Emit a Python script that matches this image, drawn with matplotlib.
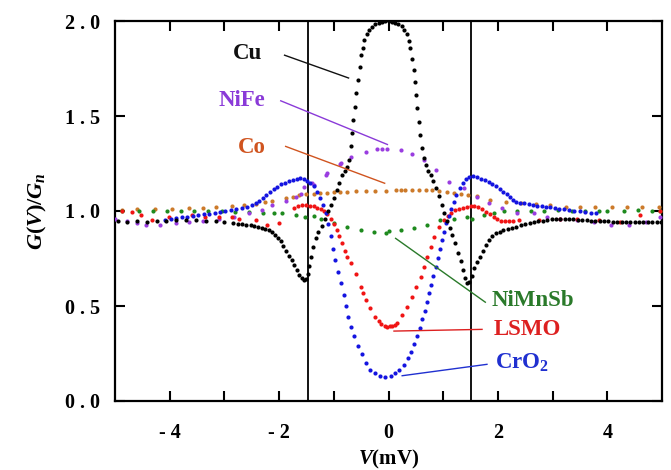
import matplotlib
matplotlib.use("Agg")
import matplotlib.pyplot as plt

plt.rcParams['font.family'] = ['Liberation Serif', 'DejaVu Serif']
plt.rcParams['font.weight'] = 'bold'
plt.rcParams['mathtext.fontset'] = 'custom'
plt.rcParams['mathtext.rm'] = 'Liberation Serif:bold'
plt.rcParams['mathtext.it'] = 'Liberation Serif:italic:bold'
plt.rcParams['mathtext.bf'] = 'Liberation Serif:bold'

# ---------------- data ----------------
cu_x = [-4.95, -4.78, -4.6, -4.42, -4.24, -4.06, -3.89, -3.7, -3.52, -3.34, -3.16, -3.0, -2.85,
        -2.75, -2.68, -2.6, -2.52, -2.45, -2.38, -2.31, -2.25, -2.19, -2.13, -2.07, -2.02, -1.97,
        -1.92, -1.87, -1.82, -1.77, -1.72, -1.67, -1.63, -1.59, -1.55, -1.51, -1.48, -1.45, -1.42,
        -1.38, -1.33, -1.28, -1.22, -1.16, -1.1, -1.05, -1.0, -0.95, -0.9, -0.85, -0.8, -0.76, -0.72,
        -0.69, -0.67, -0.64, -0.62, -0.59, -0.56, -0.53, -0.5, -0.47, -0.44, -0.4, -0.35, -0.3, -0.24,
        -0.18, -0.12, -0.06, 0.0, 0.06, 0.12, 0.18, 0.24, 0.29, 0.33, 0.37, 0.4, 0.43, 0.46, 0.49,
        0.51, 0.53, 0.55, 0.58, 0.61,
        0.64, 0.68, 0.72, 0.77, 0.82, 0.87, 0.92, 0.97, 1.02, 1.07, 1.12, 1.17, 1.22, 1.27, 1.32,
        1.36, 1.4, 1.44, 1.48, 1.52, 1.57, 1.62, 1.67, 1.72, 1.78, 1.84, 1.9, 1.96, 2.03, 2.1, 2.18,
        2.26, 2.34, 2.42, 2.5, 2.58, 2.66, 2.74, 2.82, 2.9, 2.98, 3.06, 3.14, 3.22, 3.3, 3.38, 3.46,
        3.54, 3.62, 3.7, 3.78, 3.86, 3.94, 4.02, 4.1, 4.18, 4.26, 4.34, 4.42, 4.5, 4.58, 4.66, 4.74,
        4.82, 4.9, 4.98]
cu_y = [0.945, 0.944, 0.946, 0.942, 0.946, 0.95, 0.953, 0.955, 0.953, 0.95, 0.948, 0.944, 0.938,
        0.932, 0.93, 0.928, 0.925, 0.922, 0.918, 0.912, 0.906, 0.9, 0.89, 0.875, 0.86, 0.84,
        0.815, 0.79, 0.765, 0.74, 0.715, 0.69, 0.665, 0.645, 0.637, 0.64, 0.67, 0.71, 0.76,
        0.81, 0.86, 0.89, 0.92, 0.96, 1.0, 1.03, 1.07, 1.11, 1.15, 1.19, 1.21, 1.23, 1.27,
        1.34, 1.41, 1.48, 1.55, 1.62, 1.69, 1.76, 1.82, 1.86, 1.9, 1.93, 1.955, 1.97, 1.982,
        1.99, 1.995, 1.998, 1.998, 1.995, 1.99, 1.983, 1.972, 1.955, 1.93, 1.895, 1.86, 1.8, 1.74, 1.68,
        1.61, 1.54, 1.47, 1.4, 1.33,
        1.28, 1.24, 1.21, 1.19, 1.16, 1.12, 1.08, 1.03, 0.99, 0.95, 0.91, 0.875, 0.83, 0.78, 0.735,
        0.69, 0.65, 0.62, 0.625, 0.66, 0.7, 0.73, 0.76, 0.79, 0.82, 0.85, 0.87, 0.882, 0.89, 0.898, 0.905,
        0.912, 0.918, 0.924, 0.93, 0.935, 0.94, 0.945, 0.95, 0.953, 0.956, 0.958, 0.96, 0.96, 0.958, 0.957, 0.955,
        0.953, 0.952, 0.95, 0.95, 0.948, 0.946, 0.945, 0.944, 0.944, 0.943, 0.943, 0.943, 0.944, 0.944, 0.944, 0.944,
        0.944, 0.944, 0.944]

nife_x = [-5.0, -4.78, -4.6, -4.44, -4.17, -3.89, -3.65, -3.4, -3.1, -2.83, -2.55, -2.31, -2.13,
          -1.88, -1.7, -1.6, -1.55, -1.4, -1.37, -1.15, -1.12, -0.88, -0.86, -0.69, -0.42, -0.21,
          -0.12, -0.02, 0.22, 0.43, 0.65, 0.86, 1.1, 1.38, 1.62, 1.84, 2.08, 2.35, 2.66, 2.9, 3.14,
          3.45, 3.76, 4.06, 4.39, 4.7, 4.97]
nife_y = [0.96, 0.945, 0.935, 0.926, 0.926, 0.935, 0.944, 0.948, 0.96, 0.97, 0.99, 1.005, 1.03,
          1.055, 1.075, 1.09, 1.125, 1.145, 1.137, 1.19, 1.2, 1.25, 1.255, 1.286, 1.31, 1.325,
          1.325, 1.325, 1.32, 1.3, 1.27, 1.216, 1.155, 1.12, 1.075, 1.04, 1.014, 0.99, 0.99, 0.97, 0.96,
          0.953, 0.944, 0.926, 0.926, 0.94, 0.97]

co_x = [-4.87, -4.6, -4.26, -3.95, -3.65, -3.4, -3.16, -2.86, -2.64, -2.43, -2.26, -2.13, -1.88,
        -1.75, -1.64, -1.5, -1.37, -1.25, -1.12, -1.0, -0.88, -0.76, -0.6, -0.42, -0.24, -0.05,
        0.13, 0.22, 0.31, 0.43, 0.55, 0.68, 0.8, 0.92, 1.07, 1.2, 1.32, 1.45, 1.62, 1.86, 2.14,
        2.42, 2.69, 2.96, 3.24, 3.51, 3.78, 4.09, 4.36, 4.64, 4.94]
co_y = [1.005, 1.008, 1.01, 1.012, 1.014, 1.017, 1.02, 1.026, 1.03, 1.037, 1.045, 1.055, 1.066,
        1.075, 1.084, 1.088, 1.09, 1.095, 1.097, 1.1, 1.1, 1.102, 1.103, 1.105, 1.106, 1.107,
        1.108, 1.11, 1.108, 1.11, 1.11, 1.11, 1.108, 1.105, 1.1, 1.095, 1.09, 1.085, 1.078, 1.058, 1.05,
        1.042, 1.035, 1.03, 1.02, 1.02, 1.02, 1.02, 1.02, 1.02, 1.02]

nimnsb_x = [-4.87, -4.57, -4.3, -4.05, -3.8, -3.55, -3.3, -3.05, -2.8, -2.55, -2.3, -2.1, -1.94,
            -1.7, -1.52, -1.37, -1.24, -1.0, -0.75, -0.51, -0.27, -0.05, 0.0, 0.22, 0.46, 0.71,
            0.95, 1.19, 1.44, 1.53, 1.74, 1.93, 2.11, 2.35, 2.6, 2.85, 3.1, 3.35, 3.6, 3.85, 4.0,
            4.3, 4.57, 4.82, 4.97]
nimnsb_y = [1.0, 1.0, 0.998, 1.0, 1.0, 1.0, 0.998, 0.998, 0.995, 0.993, 0.99, 0.99, 0.99,
            0.98, 0.97, 0.975, 0.96, 0.935, 0.917, 0.9, 0.89, 0.885, 0.895, 0.9, 0.908, 0.926,
            0.953, 0.96, 0.97, 0.96, 0.98, 0.99, 1.0, 1.0, 1.0, 1.0, 1.005, 1.0, 1.0, 1.0, 1.0,
            1.002, 1.005, 1.0, 1.002]

lsmo_x = [-4.87, -4.69, -4.53, -4.32, -4.02, -3.59, -3.35, -3.1, -2.86, -2.74, -2.43, -2.22, -2.0,
          -1.72, -1.65, -1.58, -1.51, -1.44, -1.37, -1.3, -1.24, -1.18, -1.12, -1.06, -1.0, -0.95,
          -0.9, -0.85, -0.8, -0.75, -0.69, -0.6, -0.51, -0.47, -0.42, -0.33, -0.24, -0.18, -0.13,
          -0.07, -0.02, 0.03, 0.07, 0.12, 0.16, 0.25, 0.34, 0.43, 0.51, 0.59, 0.65, 0.71, 0.77, 0.83,
          0.92, 1.01, 1.08, 1.15, 1.22, 1.29, 1.36, 1.43, 1.5, 1.57, 1.64, 1.71, 1.78, 1.85, 1.92,
          1.99, 2.06, 2.13, 2.2, 2.28, 2.38, 2.75, 3.14, 3.45, 3.85, 4.24, 4.6, 4.97]
lsmo_y = [1.0, 0.995, 0.98, 0.955, 0.97, 0.98, 0.97, 0.97, 0.97, 0.96, 0.953, 0.926, 0.935,
          1.015, 1.025, 1.03, 1.03, 1.028, 1.025, 1.018, 1.01, 1.0, 0.985, 0.96, 0.93, 0.9,
          0.87, 0.83, 0.79, 0.76, 0.725, 0.67, 0.6, 0.57, 0.53, 0.488, 0.44, 0.42, 0.405,
          0.395, 0.39, 0.393, 0.395, 0.4, 0.41, 0.453, 0.496, 0.55, 0.6, 0.654, 0.707, 0.76, 0.81, 0.865,
          0.917, 0.955, 0.975, 0.99, 1.003, 1.012, 1.018, 1.022, 1.025, 1.024, 1.02, 1.01, 0.997, 0.982, 0.968,
          0.958, 0.95, 0.946, 0.945, 0.946, 0.953, 0.953, 0.96, 0.96, 0.953, 0.94, 0.98, 1.0]

cro2_x = [-4.08, -3.98, -3.88, -3.78, -3.68, -3.58, -3.48, -3.38, -3.28, -3.18, -3.08, -2.98, -2.88,
          -2.78, -2.68, -2.58, -2.5, -2.43, -2.36, -2.3, -2.24, -2.17, -2.1, -2.03, -1.96, -1.89,
          -1.82, -1.75, -1.68, -1.61, -1.55, -1.49, -1.43, -1.37, -1.31, -1.26, -1.2, -1.15, -1.1,
          -1.06, -1.02, -0.97, -0.92, -0.87, -0.82, -0.78, -0.74, -0.69, -0.63, -0.56, -0.49, -0.41,
          -0.33, -0.24, -0.15, -0.06, 0.04, 0.12, 0.2, 0.28, 0.35, 0.41, 0.47, 0.52, 0.57, 0.62, 0.66,
          0.7, 0.74, 0.78, 0.82, 0.86, 0.9, 0.94, 0.98, 1.02, 1.06, 1.1, 1.14, 1.19, 1.24, 1.3, 1.36,
          1.42, 1.48, 1.55, 1.62, 1.69, 1.76, 1.83, 1.9, 1.97, 2.04, 2.1, 2.16, 2.22, 2.28, 2.34, 2.4,
          2.48, 2.56, 2.64, 2.72, 2.8, 2.88, 2.96, 3.04, 3.12, 3.2, 3.3, 3.4, 3.5, 3.6, 3.7, 3.8]
cro2_y = [0.955, 0.958, 0.962, 0.966, 0.97, 0.974, 0.978, 0.982, 0.986, 0.99, 0.995, 1.0, 1.005,
          1.01, 1.015, 1.02, 1.03, 1.04, 1.055, 1.07, 1.085, 1.1, 1.115, 1.128, 1.14, 1.15,
          1.158, 1.165, 1.17, 1.172, 1.17, 1.16, 1.15, 1.13, 1.1, 1.07, 1.03, 0.99, 0.93,
          0.87, 0.8, 0.74, 0.68, 0.62, 0.56, 0.5, 0.44, 0.39, 0.34, 0.29, 0.245, 0.2,
          0.165, 0.145, 0.132, 0.128, 0.13, 0.145, 0.165, 0.19, 0.225, 0.26, 0.3, 0.34, 0.385, 0.43, 0.475,
          0.52, 0.567, 0.61, 0.66, 0.707, 0.755, 0.8, 0.847, 0.89, 0.935, 0.975, 1.01, 1.05, 1.085, 1.12, 1.15,
          1.17, 1.18, 1.182, 1.178, 1.17, 1.162, 1.152, 1.14, 1.13, 1.115, 1.1, 1.09, 1.075, 1.06, 1.05, 1.043,
          1.04, 1.037, 1.032, 1.028, 1.025, 1.022, 1.02, 1.015, 1.01, 1.008, 1.005, 1.0, 0.998, 0.995, 0.992, 0.99]

gap_edges = [-1.47, 1.50]

x_ticks = [-4, -3, -2, -1, 0, 1, 2, 3, 4]
x_ticklabels = ['- 4', '', '- 2', '', '0', '', '2', '', '4']
y_ticks = [0.0, 0.5, 1.0, 1.5, 2.0]
y_ticklabels = ['0 . 0', '0 . 5', '1 . 0', '1 . 5', '2 . 0']

# annotation labels: name, text position, line start, line end
labels = ['Cu', 'NiFe', 'Co', 'NiMnSb', 'LSMO', 'CrO$_2$']
label_pos = [(-2.31, 1.83), (-2.25, 1.584), (-2.25, 1.333), (1.89, 0.53), (1.92, 0.374), (1.94, 0.20)]
line_start = [(-1.90, 1.82), (-1.97, 1.58), (-1.88, 1.34), (0.13, 0.856), (0.10, 0.368), (0.25, 0.133)]
line_end = [(-0.73, 1.70), (-0.02, 1.35), (-0.07, 1.146), (1.77, 0.52), (1.71, 0.377), (1.80, 0.193)]
label_colors = ['#111111', '#8a3ad8', '#d0541f', '#2a7a2a', '#dd2020', '#2030d0']

# ---------------- figure ----------------
fig = plt.figure(figsize=(6.71, 4.70), dpi=100)
ax = fig.add_axes([115 / 671, 69 / 470, 547 / 671, 380 / 470])

ms = 3.0
series = [
    (co_x, co_y, '#cc7a2a'),
    (nimnsb_x, nimnsb_y, '#1e8a1e'),
    (nife_x, nife_y, '#9a3de0'),
    (lsmo_x, lsmo_y, '#f01414'),
    (cro2_x, cro2_y, '#1414e0'),
    (cu_x, cu_y, '#000000'),
]
for xs, ys, c in series:
    ax.plot(xs, ys, linestyle='none', marker='o', markersize=ms, color=c,
            markeredgewidth=0, zorder=3)

for xv in gap_edges:
    ax.axvline(xv, color='black', lw=1.3, zorder=2)

for name, pos, s, e, c in zip(labels, label_pos, line_start, line_end, label_colors):
    ax.plot([s[0], e[0]], [s[1], e[1]], color=c, lw=1.0, zorder=4)
    ha = 'right' if pos[0] < 0 else 'left'
    ax.text(pos[0], pos[1], name, color=c, fontsize=16.5, fontweight='bold',
            ha=ha, va='center', zorder=5)

ax.set_xlim(-5, 5)
ax.set_ylim(0, 2.0)
ax.set_xticks(x_ticks)
ax.set_xticklabels(x_ticklabels)
ax.set_yticks(y_ticks)
ax.set_yticklabels(y_ticklabels)
ax.tick_params(axis='both', direction='in', top=True, right=True, length=7, width=1.5,
               labelsize=14.5)
ax.tick_params(axis='x', pad=15.5)
ax.tick_params(axis='y', pad=10.5)
for lab in ax.get_xticklabels() + ax.get_yticklabels():
    lab.set_fontweight('bold')
for sp in ax.spines.values():
    sp.set_linewidth(1.6)

ax.set_ylabel('$G(V)/G_n$', fontsize=16)
ax.yaxis.set_label_coords(-0.12, 0.5)
ax.set_xlabel('$V$(mV)', fontsize=15, fontweight='bold')
ax.xaxis.set_label_coords(0.5, -0.124)

fig.savefig('out.png', dpi=100)
